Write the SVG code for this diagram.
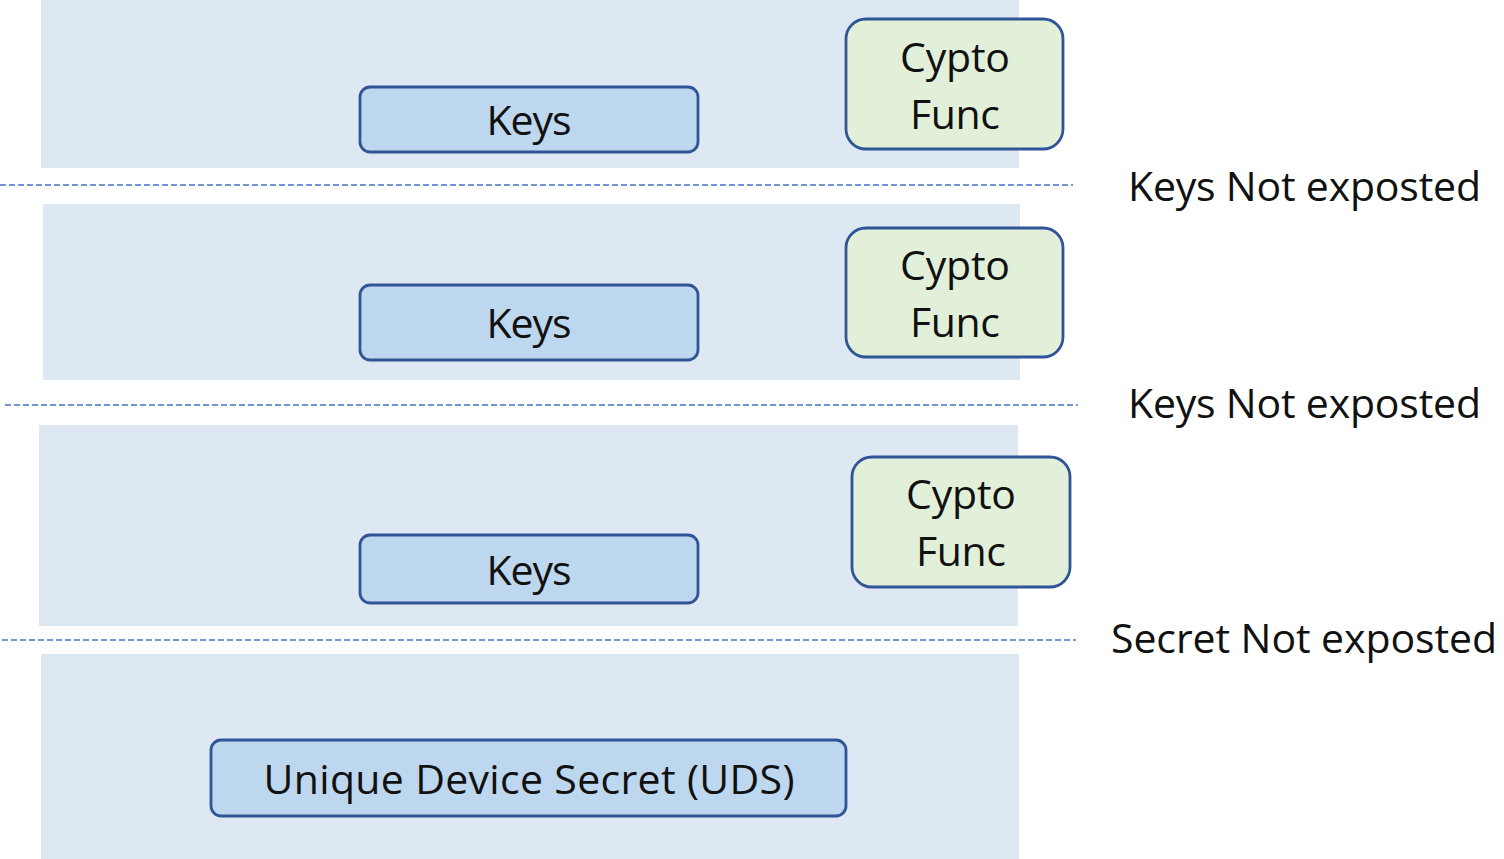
<svg xmlns="http://www.w3.org/2000/svg" width="1504" height="859" viewBox="0 0 1504 859">
<style>
.band{fill:#dee8f3}
.key{fill:#bdd7ee;stroke:#2f5597;stroke-width:2.8}
.cf{fill:#e2f0d9;stroke:#2f5597;stroke-width:2.8}
.dash{stroke:#4472c4;stroke-width:1.5;stroke-dasharray:6,3;fill:none}
text{font-family:"Open Sans","Liberation Sans",sans-serif;font-size:41px;fill:#111}
.c{text-anchor:middle}
</style>
<rect width="1504" height="859" fill="#fff"/>
<g id="bands">
<rect class="band" x="41" y="0" width="978" height="168"/>
<rect class="band" x="43" y="204" width="977" height="176"/>
<rect class="band" x="39" y="425" width="979" height="201"/>
<rect class="band" x="41" y="654" width="978" height="205"/>
</g>
<g id="connectors">
<line class="dash" x1="0" y1="185" x2="1073" y2="185"/>
<line class="dash" x1="5" y1="405" x2="1078" y2="405"/>
<line class="dash" x1="2" y1="640" x2="1076" y2="640"/>
</g>
<g id="keys1"><rect class="key" x="360" y="87" width="338" height="65" rx="10"/><text class="c" x="529" y="135" textLength="85">Keys</text></g>
<g id="keys2"><rect class="key" x="360" y="285" width="338" height="75" rx="10"/><text class="c" x="529" y="338" textLength="85">Keys</text></g>
<g id="keys3"><rect class="key" x="360" y="535" width="338" height="68" rx="10"/><text class="c" x="529" y="585" textLength="85">Keys</text></g>
<g id="crypto1"><rect class="cf" x="846" y="19" width="217" height="130" rx="20"/><text class="c" x="955" y="72" textLength="110">Cypto</text><text class="c" x="955" y="129" textLength="90">Func</text></g>
<g id="crypto2"><rect class="cf" x="846" y="228" width="217" height="129" rx="20"/><text class="c" x="955" y="280" textLength="110">Cypto</text><text class="c" x="955" y="337" textLength="90">Func</text></g>
<g id="crypto3"><rect class="cf" x="852" y="457" width="218" height="130" rx="20"/><text class="c" x="961" y="509" textLength="110">Cypto</text><text class="c" x="961" y="566" textLength="90">Func</text></g>
<g id="uds"><rect class="key" x="211" y="740" width="635" height="76" rx="10"/><text class="c" x="529" y="794" textLength="531">Unique Device Secret (UDS)</text></g>
<g id="labels">
<text x="1128" y="201" textLength="353">Keys Not exposted</text>
<text x="1128" y="418" textLength="353">Keys Not exposted</text>
<text x="1111" y="653" textLength="386">Secret Not exposted</text>
</g>
</svg>
